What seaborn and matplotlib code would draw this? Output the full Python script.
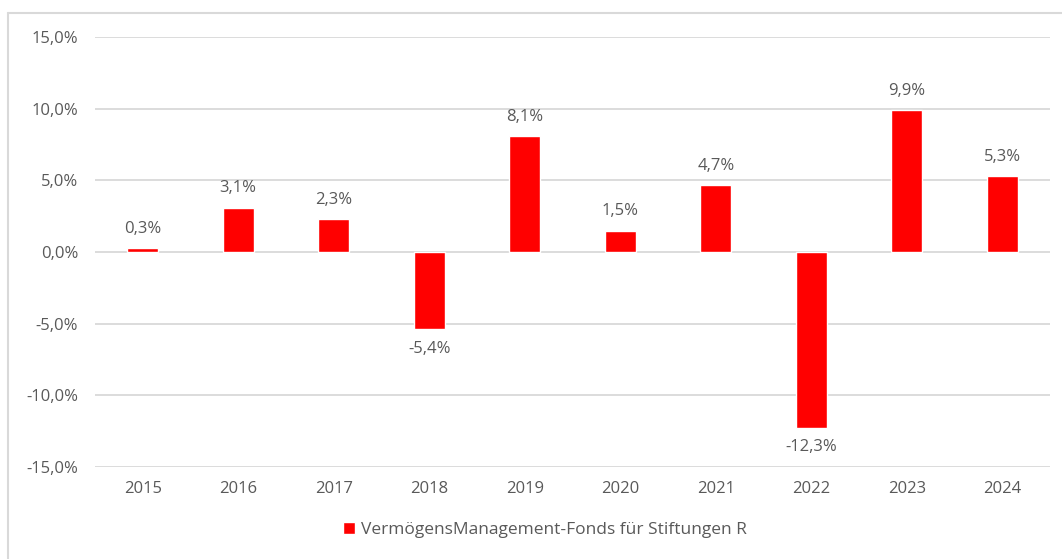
import matplotlib
matplotlib.use("Agg")
import matplotlib.pyplot as plt
import seaborn as sns
import pandas as pd
from matplotlib.lines import Line2D

years = ["2015", "2016", "2017", "2018", "2019", "2020", "2021", "2022", "2023", "2024"]
returns = [0.3, 3.1, 2.3, -5.4, 8.1, 1.5, 4.7, -12.3, 9.9, 5.3]
series_name = "VermögensManagement-Fonds für Stiftungen R"
y_ticks = [-15, -10, -5, 0, 5, 10, 15]

TEXT = "#595959"
GRID = "#D9D9D9"

sns.set_theme(style="white")
plt.rcParams["font.family"] = ["Open Sans", "DejaVu Sans"]

df = pd.DataFrame({"year": years, "ret": returns})

fig = plt.figure(figsize=(10.62, 5.59), dpi=100)
ax = fig.add_axes([95 / 1062, 1 - 467 / 559, (1050 - 95) / 1062, (467 - 37) / 559])

sns.barplot(data=df, x="year", y="ret", color="#FF0000", saturation=1,
            width=0.32, label=series_name, ax=ax, zorder=3)

ax.set_ylim(-15, 15)
ax.set_xlim(-0.5, len(years) - 0.5)
ax.set_yticks(y_ticks)
ax.set_yticklabels([f"{t:.1f}%".replace(".", ",") for t in y_ticks])
ax.yaxis.grid(True, color=GRID, linewidth=1.3, zorder=0)
ax.set_axisbelow(True)
for s in ax.spines.values():
    s.set_visible(False)
ax.set_xlabel("")
ax.set_ylabel("")
ax.tick_params(axis="y", length=0, pad=12, labelsize=12, labelcolor=TEXT)
ax.tick_params(axis="x", length=0, pad=0, labelsize=12, labelcolor=TEXT)
# category labels sit below the bottom gridline
for lbl in ax.get_xticklabels():
    lbl.set_y(-0.033)

labels = [f"{v:.1f}%".replace(".", ",") for v in returns]
ax.bar_label(ax.containers[0], labels=labels, padding=8, fontsize=12, color=TEXT)

leg = ax.legend(loc="center", bbox_to_anchor=(0.513, 0.052), bbox_transform=fig.transFigure,
                frameon=False, fontsize=12.5, handlelength=0.7, handleheight=0.7,
                handletextpad=0.3)
for t in leg.get_texts():
    t.set_color(TEXT)

# chart frame (left and top edges visible)
fig.add_artist(Line2D([8 / 1062, 8 / 1062], [0, 1 - 13 / 559], transform=fig.transFigure,
                      color=GRID, linewidth=1.5))
fig.add_artist(Line2D([8 / 1062, 1], [1 - 13 / 559, 1 - 13 / 559], transform=fig.transFigure,
                      color=GRID, linewidth=1.5))

fig.savefig("out.png", dpi=100)
